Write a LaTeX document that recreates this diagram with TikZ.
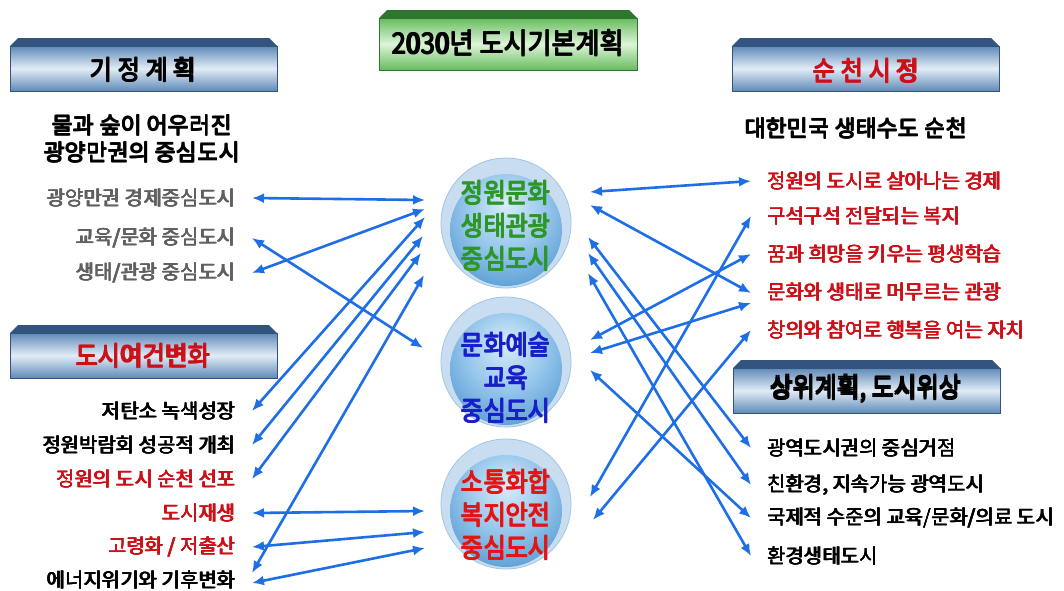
\documentclass[tikz,border=0pt]{standalone}
\usepackage{fontspec}
\setmainfont{Noto Sans CJK KR}
\newfontfamily\headfont{Noto Sans CJK KR}[FakeStretch=0.9]
\newcommand{\fat}[2][0.8pt]{\rlap{#2}\rlap{\raisebox{#1}{#2}}\kern#1\rlap{\raisebox{#1}{#2}}#2}
\usetikzlibrary{positioning,arrows.meta}
\usepackage{xcolor}
\definecolor{linkblue}{RGB}{30,110,230}
\definecolor{hdrdark}{RGB}{50,84,126}
\definecolor{hdrmid}{RGB}{96,138,184}
\definecolor{hdrlight}{RGB}{226,236,246}
\definecolor{grndark}{RGB}{46,118,46}
\definecolor{grnmid}{RGB}{102,188,94}
\definecolor{grnlight}{RGB}{222,244,216}
\definecolor{planred}{RGB}{204,16,24}
\definecolor{plangray}{RGB}{96,96,96}
\definecolor{hubgreen}{RGB}{44,150,38}
\definecolor{hubblue}{RGB}{24,30,200}
\definecolor{hubred}{RGB}{228,20,20}
\definecolor{halo}{RGB}{200,222,240}
\definecolor{haloedge}{RGB}{160,196,228}
\definecolor{sky0}{RGB}{216,236,250}
\definecolor{sky1}{RGB}{150,198,235}
\definecolor{sky2}{RGB}{70,145,205}
\definecolor{sky3}{RGB}{45,115,180}
\pgfdeclareradialshading{glass}{\pgfpoint{0bp}{12bp}}{%
  color(0bp)=(sky0); color(18bp)=(sky1); color(38bp)=(sky2);
  color(52bp)=(sky3); color(64bp)=(sky1)}

\begin{document}
\begin{tikzpicture}[x=1pt,y=-1pt,
    leftitem/.style={anchor=east, inner sep=2pt, outer xsep=14pt,
      font=\fontsize{20}{24}\selectfont},
    rightitem/.style={anchor=west, inner sep=2pt, outer xsep=14pt,
      font=\fontsize{20}{24}\selectfont},
    subhead/.style={align=center, font=\fontsize{23}{27}\selectfont},
    platetxt/.style={font=\headfont\fontsize{27}{30}\selectfont},
    hubtxt/.style={align=center, font=\headfont\fontsize{27}{33}\selectfont},
    link/.style={draw=linkblue, line width=2.6pt,
      {Latex[length=12pt,width=10pt]}-{Latex[length=12pt,width=10pt]}}]
  \useasboundingbox (0,0) rectangle (1064,590);
  \fill[white] (0,0) rectangle (1064,590);

  % plates
  \foreach \px/\py in {10/38, 732/38, 10/325, 733/360}{
    \fill[hdrdark] (\px,\py+8) -- (\px+8,\py) -- (\px+259,\py) -- (\px+267,\py+8) -- cycle;
    \shadedraw[draw=hdrdark, line width=0.6pt, top color=hdrmid, bottom color=hdrmid, middle color=hdrlight]
      (\px,\py+8) rectangle (\px+267,\py+53);
  }
  \fill[grndark] (379,18) -- (387,10) -- (629,10) -- (637,18) -- cycle;
  \shadedraw[draw=grndark, line width=0.6pt, top color=grnmid, bottom color=grnmid, middle color=grnlight]
    (379,18) rectangle (637,70);

  \node[platetxt, font=\headfont\fontsize{29}{32}\selectfont] (title) at (508,43) {\fat[1.4pt]{2030년 도시기본계획}};
  \node[platetxt] (hplan) at (143,70) {\fat[1.4pt]{기 정 계 획}};
  \node[platetxt, text=planred] (hcity) at (866,71) {\fat[1.4pt]{순 천 시 정}};
  \node[platetxt, text=planred] (hchange) at (143,356) {\fat[1.4pt]{도시여건변화}};
  \node[platetxt] (hupper) at (866,389) {\fat[1.4pt]{상위계획, 도시위상}};

  \node[subhead] (lmotto) at (142,139) {\fat{물과 숲이 어우러진}\\\fat{광양만권의 중심도시}};
  \node[subhead, anchor=west] (rmotto) at (741,128) {\fat{대한민국 생태수도 순천}};

  % spheres
  \foreach \cy in {227,366,508}{
    \fill[halo, draw=haloedge, line width=0.8pt] (506,\cy-4) circle (65);
    \shade[shading=glass] (506,\cy+3) circle (56);
  }
  \node[hubtxt, text=hubgreen] (cgarden) at (506,226)
    {\fat[1.1pt]{정원문화}\\\fat[1.1pt]{생태관광}\\\fat[1.1pt]{중심도시}};
  \node[hubtxt, text=hubblue] (carts) at (506,378)
    {\fat[1.1pt]{문화예술}\\\fat[1.1pt]{교육}\\\fat[1.1pt]{중심도시}};
  \node[hubtxt, text=hubred] (cwelfare) at (506,515)
    {\fat[1.1pt]{소통화합}\\\fat[1.1pt]{복지안전}\\\fat[1.1pt]{중심도시}};

  \node[leftitem, text=plangray] (lgy) at (252,198) {\fat{광양만권 경제중심도시}};
  \node[leftitem, text=plangray] (ledu) at (252,238) {\fat{교육/문화 중심도시}};
  \node[leftitem, text=plangray] (leco) at (252,273) {\fat{생태/관광 중심도시}};
  \node[leftitem] (lcarbon) at (252,411) {\fat{저탄소 녹색성장}};
  \node[leftitem] (lexpo) at (252,445) {\fat{정원박람회 성공적 개최}};
  \node[leftitem, text=planred] (lgarden) at (252,479) {\fat{정원의 도시 순천 선포}};
  \node[leftitem, text=planred] (lregen) at (252,513) {\fat{도시재생}};
  \node[leftitem, text=planred] (laging) at (252,547) {\fat{고령화 / 저출산}};
  \node[leftitem] (lenergy) at (252,580) {\fat{에너지위기와 기후변화}};

  \node[rightitem, text=planred] (rjob) at (751,181) {\fat{정원의 도시로 살아나는 경제}};
  \node[rightitem, text=planred] (rwelfare) at (751,216) {\fat{구석구석 전달되는 복지}};
  \node[rightitem, text=planred] (rlearn) at (751,254) {\fat{꿈과 희망을 키우는 평생학습}};
  \node[rightitem, text=planred] (rtour) at (751,292) {\fat{문화와 생태로 머무르는 관광}};
  \node[rightitem, text=planred] (rself) at (751,330) {\fat{창의와 참여로 행복을 여는 자치}};
  \node[rightitem] (rhub) at (751,448) {\fat{광역도시권의 중심거점}};
  \node[rightitem] (reco) at (751,485) {\fat{친환경, 지속가능 광역도시}};
  \node[rightitem] (rintl) at (751,518) {\fat{국제적 수준의 교육/문화/의료 도시}};
  \node[rightitem] (rgreen) at (751,556) {\fat{환경생태도시}};

  % links, left
  \draw[link] (lgy.east) -- ([shift={(-81,-26)}]cgarden.center);
  \draw[link] (leco.east) -- ([shift={(-81,-17)}]cgarden.center);
  \draw[link] (ledu.east) -- ([shift={(-83,-30)}]carts.center);
  \draw[link] (lcarbon.east) -- ([shift={(-81,-9)}]cgarden.center);
  \draw[link] (lexpo.east) -- ([shift={(-83,10)}]cgarden.center);
  \draw[link] (lgarden.east) -- ([shift={(-85,27)}]cgarden.center);
  \draw[link] ([shift={(0,-7)}]lenergy.east) -- ([shift={(-82,49)}]cgarden.center);
  \draw[link] (lregen.east) -- ([shift={(-81,-4)}]cwelfare.center);
  \draw[link] (laging.east) -- ([shift={(-81,17)}]cwelfare.center);
  \draw[link] ([shift={(0,3)}]lenergy.east) -- ([shift={(-81,33)}]cwelfare.center);
  % links, right
  \draw[link] ([shift={(84,-34)}]cgarden.center) -- (rjob.west);
  \draw[link] ([shift={(84,-21)}]cgarden.center) -- ([shift={(0,1)}]rtour.west);
  \draw[link] ([shift={(82,11)}]cgarden.center) -- (rhub.west);
  \draw[link] ([shift={(82,27)}]cgarden.center) -- (reco.west);
  \draw[link] ([shift={(82,47)}]cgarden.center) -- (rgreen.west);
  \draw[link] ([shift={(84,-38)}]carts.center) -- (rlearn.west);
  \draw[link] ([shift={(84,-25)}]carts.center) -- ([shift={(0,11)}]rtour.west);
  \draw[link] ([shift={(84,-8)}]carts.center) -- (rintl.west);
  \draw[link] ([shift={(84,-18)}]cwelfare.center) -- (rwelfare.west);
  \draw[link] ([shift={(87,5)}]cwelfare.center) -- (rself.west);
\end{tikzpicture}
\end{document}
